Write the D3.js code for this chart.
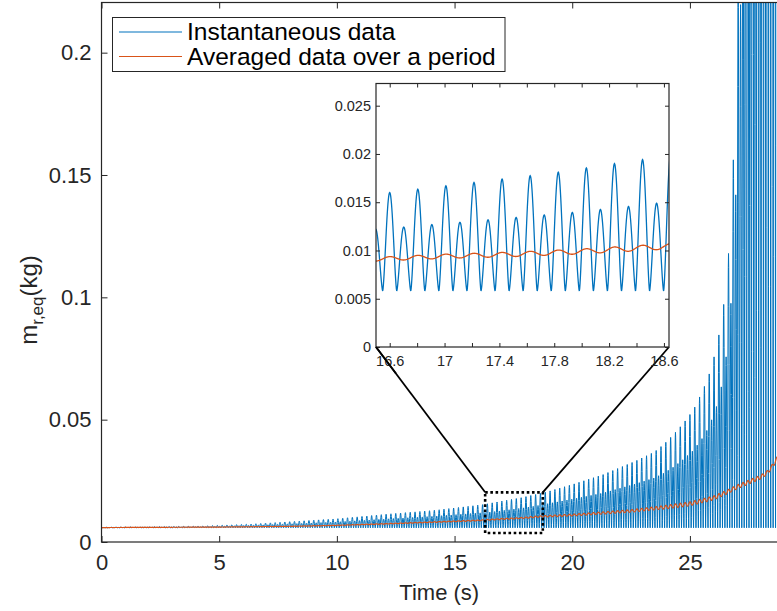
<!DOCTYPE html>
<html>
<head>
<meta charset="utf-8">
<script src="https://cdn.jsdelivr.net/npm/d3@7"></script>
<style>
  body { margin: 0; background: #fff; }
  svg { display: block; font-family: "Liberation Sans", Arial, sans-serif; }
</style>
</head>
<body>
<svg id="chart" width="777" height="611"></svg>
<script>
// ---- data ----
var seriesNames = ["Instantaneous data", "Averaged data over a period"];
var seriesColors = ["#0072BD", "#D95319"];

var xTicks = [0, 5, 10, 15, 20, 25];
var yTicks = [0, 0.05, 0.1, 0.15, 0.2];
var yTickLabels = ["0", "0.05", "0.1", "0.15", "0.2"];
var insetXTicks = [16.6, 16.8, 17, 17.2, 17.4, 17.6, 17.8, 18, 18.2, 18.4, 18.6];
var insetXLabels = [16.6, 17, 17.4, 17.8, 18.2, 18.6];
var insetYTicks = [0, 0.005, 0.01, 0.015, 0.02, 0.025];

// oscillation: big peak / small peak alternate, troughs at a constant level
var troughLevel = 0.0058;
var bigPeakPeriod = 0.2049;   // s between two big peaks
var firstBigPeak = 16.6;      // a big peak time seen in the inset

// peak envelopes (s, kg)
var peakTimes = [0, 4.2, 6.3, 8.0, 10.0, 12.26, 14.1, 16.22, 16.6, 17.01, 17.42, 17.83, 18.24, 18.44,
  18.92, 20.0, 21.3, 22.67, 23.49, 23.9, 24.31, 24.72, 25.15, 25.57, 25.8, 26.01, 26.22, 26.45,
  26.66, 26.89, 27.1, 27.5, 28.7];
var bigPeaks = [0.0060, 0.0065, 0.0073, 0.0083, 0.0095, 0.0115, 0.0129, 0.0153, 0.0160, 0.0167,
  0.0174, 0.0181, 0.0190, 0.0194, 0.0205, 0.0235, 0.0275, 0.0330, 0.0368, 0.0400, 0.0440, 0.0485,
  0.0540, 0.0625, 0.0680, 0.0750, 0.0840, 0.0980, 0.1200, 0.1650, 0.2500, 0.4500, 1.2000];
var smallPeaks = [0.0059, 0.0062, 0.0068, 0.0074, 0.0082, 0.0095, 0.0105, 0.0120, 0.0123, 0.0128,
  0.0133, 0.0138, 0.0144, 0.0147, 0.0156, 0.0175, 0.0200, 0.0237, 0.0262, 0.0282, 0.0307, 0.0338,
  0.0375, 0.0430, 0.0470, 0.0520, 0.0580, 0.0690, 0.0850, 0.1200, 0.2000, 0.3500, 0.9000];

// averaged data over a period
var avgTimes = [0, 5, 8, 10, 12, 14, 16, 16.5, 17, 17.5, 18, 18.6, 20, 22.5, 24, 25, 26, 26.6, 27,
  27.5, 28, 28.3, 28.5, 28.7];
var avgValues = [0.0059, 0.0061, 0.0064, 0.0068, 0.0074, 0.0081, 0.0088, 0.0091, 0.0094, 0.0096,
  0.0099, 0.0104, 0.0110, 0.0127, 0.0143, 0.0156, 0.0180, 0.0205, 0.0225, 0.0245, 0.0265, 0.0285,
  0.0310, 0.0340];

// zoomed region marked on the main axes
var zoomBox = { x0: 16.3, x1: 18.75, y0: 0.0037, y1: 0.0203 };

// ---- envelopes as polylinear scales ----
var bigEnv = d3.scaleLinear().domain(peakTimes).range(bigPeaks);
var smallEnv = d3.scaleLinear().domain(peakTimes).range(smallPeaks);
var avgEnv = d3.scaleLinear().domain(avgTimes).range(avgValues);
var halfPeriod = bigPeakPeriod / 2;

function instValue(t) {
  var u = (t - firstBigPeak) / halfPeriod;
  var n = Math.round(u);
  var d = Math.abs(u - n);
  var tp = firstBigPeak + n * halfPeriod;
  var isBig = ((n % 2) + 2) % 2 === 0;
  var pv = isBig ? bigEnv(tp) : smallEnv(tp);
  var s = Math.pow(Math.max(0, Math.cos(Math.PI * d)), 1.5);
  return troughLevel + (pv - troughLevel) * s;
}

function avgValue(t) {
  var amp = Math.min(bigEnv(t) - troughLevel, 0.04);
  var ripple = 0.02 * amp * Math.cos(2 * Math.PI * (t - firstBigPeak) / bigPeakPeriod);
  return avgEnv(t) + ripple;
}

// samples aligned on the peak grid so every trough and peak is hit
function sample(t0, t1, perHalf, f) {
  var pts = [];
  var k0 = Math.floor((t0 - firstBigPeak) / halfPeriod * perHalf);
  var k1 = Math.ceil((t1 - firstBigPeak) / halfPeriod * perHalf);
  for (var k = k0; k <= k1; k++) {
    var t = firstBigPeak + k * halfPeriod / perHalf;
    pts.push([t, f(t)]);
  }
  return pts;
}

var svg = d3.select("#chart");
var axisColor = "#262626";

// ---- main axes ----
var m = { left: 101.5, right: 777, top: 2.5, bottom: 542 };
var x = d3.scaleLinear().domain([0, 28.7]).range([m.left, m.right]);
var y = d3.scaleLinear().domain([0, 0.2205]).range([m.bottom, m.top]);

var defs = svg.append("defs");
defs.append("clipPath").attr("id", "clip-main")
  .append("rect")
    .attr("x", m.left).attr("y", m.top)
    .attr("width", m.right - m.left).attr("height", m.bottom - m.top);

var mainData = sample(0, 28.7, 12, instValue);
var mainAvg = sample(0, 28.7, 12, avgValue);

var line = d3.line().x(function (d) { return x(d[0]); }).y(function (d) { return y(d[1]); });

var plot = svg.append("g").attr("clip-path", "url(#clip-main)");
plot.append("path")
  .attr("d", line(mainData))
  .style("fill", "none")
  .style("stroke", seriesColors[0])
  .style("stroke-width", 1);
plot.append("path")
  .attr("d", line(mainAvg))
  .style("fill", "none")
  .style("stroke", seriesColors[1])
  .style("stroke-width", 1.2);

// axes (ticks inward)
svg.append("g")
  .attr("transform", "translate(0," + m.bottom + ")")
  .call(d3.axisBottom(x).tickValues(xTicks).tickSize(-6).tickPadding(12).tickFormat(d3.format("d")))
  .call(function (g) {
    g.select(".domain").remove();
    g.selectAll("line").style("stroke", axisColor);
    g.selectAll("text").style("font-size", "22px").style("fill", axisColor);
  });
svg.append("g")
  .attr("transform", "translate(0," + m.top + ")")
  .call(d3.axisTop(x).tickValues(xTicks).tickSize(-6).tickFormat(""))
  .call(function (g) {
    g.select(".domain").remove();
    g.selectAll("line").style("stroke", axisColor);
  });
svg.append("g")
  .attr("transform", "translate(" + m.left + ",0)")
  .call(d3.axisLeft(y).tickValues(yTicks).tickSize(-6).tickPadding(10)
    .tickFormat(function (d, i) { return yTickLabels[i]; }))
  .call(function (g) {
    g.select(".domain").remove();
    g.selectAll("line").style("stroke", axisColor);
    g.selectAll("text").style("font-size", "22px").style("fill", axisColor);
  });

svg.append("rect")
  .attr("x", m.left).attr("y", m.top)
  .attr("width", m.right - m.left + 5).attr("height", m.bottom - m.top)
  .style("fill", "none").style("stroke", axisColor).style("stroke-width", 1.2);

// axis titles
svg.append("text")
  .attr("x", (m.left + m.right) / 2).attr("y", 600)
  .attr("text-anchor", "middle")
  .style("font-size", "22px").style("fill", axisColor)
  .text("Time (s)");

var yTitle = svg.append("text")
  .attr("transform", "translate(37,300) rotate(-90)")
  .attr("text-anchor", "middle")
  .style("font-size", "24px").style("fill", axisColor);
yTitle.append("tspan").text("m");
yTitle.append("tspan").attr("dy", 6).style("font-size", "17px").text("r,eq");
yTitle.append("tspan").attr("dy", -6).text("(kg)");

// ---- zoom box + connectors ----
var ins = { left: 376, right: 669, top: 83.5, bottom: 347 };

svg.append("line")
  .attr("x1", ins.left).attr("y1", ins.bottom)
  .attr("x2", x(zoomBox.x0)).attr("y2", y(zoomBox.y1))
  .style("stroke", "#000").style("stroke-width", 1.8);
svg.append("line")
  .attr("x1", ins.right).attr("y1", ins.bottom)
  .attr("x2", x(zoomBox.x1)).attr("y2", y(zoomBox.y1))
  .style("stroke", "#000").style("stroke-width", 1.8);

svg.append("rect")
  .attr("x", x(zoomBox.x0)).attr("y", y(zoomBox.y1))
  .attr("width", x(zoomBox.x1) - x(zoomBox.x0))
  .attr("height", y(zoomBox.y0) - y(zoomBox.y1))
  .style("fill", "none").style("stroke", "#000")
  .style("stroke-width", 2.6).style("stroke-dasharray", "2.6,2.6");

// ---- inset ----
var xi = d3.scaleLinear().domain([16.5, 18.637]).range([ins.left, ins.right]);
var yi = d3.scaleLinear().domain([0, 0.0273]).range([ins.bottom, ins.top]);

defs.append("clipPath").attr("id", "clip-inset")
  .append("rect")
    .attr("x", ins.left).attr("y", ins.top)
    .attr("width", ins.right - ins.left).attr("height", ins.bottom - ins.top);

var inset = svg.append("g").attr("id", "inset");
inset.append("rect")
  .attr("x", ins.left).attr("y", ins.top)
  .attr("width", ins.right - ins.left).attr("height", ins.bottom - ins.top)
  .style("fill", "#fff");

var lineI = d3.line().x(function (d) { return xi(d[0]); }).y(function (d) { return yi(d[1]); });
var insetPlot = inset.append("g").attr("clip-path", "url(#clip-inset)");
insetPlot.append("path")
  .attr("d", lineI(sample(16.45, 18.7, 40, instValue)))
  .style("fill", "none").style("stroke", seriesColors[0]).style("stroke-width", 1.3);
insetPlot.append("path")
  .attr("d", lineI(sample(16.45, 18.7, 40, avgValue)))
  .style("fill", "none").style("stroke", seriesColors[1]).style("stroke-width", 1.3);

inset.append("g")
  .attr("transform", "translate(0," + ins.bottom + ")")
  .call(d3.axisBottom(xi).tickValues(insetXTicks).tickSize(-4).tickPadding(9)
    .tickFormat(function (d) { return insetXLabels.some(function (v) { return Math.abs(v - d) < 1e-6; }) ? d3.format("")(d) : ""; }))
  .call(function (g) {
    g.select(".domain").remove();
    g.selectAll("line").style("stroke", axisColor);
    g.selectAll("text").style("font-size", "14.5px").style("fill", axisColor);
  });
inset.append("g")
  .attr("transform", "translate(0," + ins.top + ")")
  .call(d3.axisTop(xi).tickValues(insetXTicks).tickSize(-4).tickFormat(""))
  .call(function (g) {
    g.select(".domain").remove();
    g.selectAll("line").style("stroke", axisColor);
  });
inset.append("g")
  .attr("transform", "translate(" + ins.left + ",0)")
  .call(d3.axisLeft(yi).tickValues(insetYTicks).tickSize(-4).tickPadding(5).tickFormat(d3.format("")))
  .call(function (g) {
    g.select(".domain").remove();
    g.selectAll("line").style("stroke", axisColor);
    g.selectAll("text").style("font-size", "14.5px").style("fill", axisColor);
  });
inset.append("g")
  .attr("transform", "translate(" + ins.right + ",0)")
  .call(d3.axisRight(yi).tickValues(insetYTicks).tickSize(-4).tickFormat(""))
  .call(function (g) {
    g.select(".domain").remove();
    g.selectAll("line").style("stroke", axisColor);
  });
inset.append("rect")
  .attr("x", ins.left).attr("y", ins.top)
  .attr("width", ins.right - ins.left).attr("height", ins.bottom - ins.top)
  .style("fill", "none").style("stroke", axisColor).style("stroke-width", 1.2);

// connectors run over the inset labels too
svg.append("line")
  .attr("x1", ins.left).attr("y1", ins.bottom)
  .attr("x2", ins.left + 20).attr("y2", ins.bottom + 26.5)
  .style("stroke", "#000").style("stroke-width", 1.8);

// ---- legend ----
var legend = svg.append("g").attr("id", "legend");
legend.append("rect")
  .attr("x", 112.5).attr("y", 17.5).attr("width", 392.5).attr("height", 54)
  .style("fill", "#fff").style("stroke", axisColor).style("stroke-width", 1);
seriesNames.forEach(function (name, i) {
  var ly = 32 + i * 24.5;
  legend.append("line")
    .attr("x1", 119).attr("x2", 182).attr("y1", ly).attr("y2", ly)
    .style("stroke", seriesColors[i]).style("stroke-width", 1.2);
  legend.append("text")
    .attr("x", 187).attr("y", ly + 8)
    .style("font-size", "24.5px").style("fill", "#000")
    .text(name);
});
</script>
</body>
</html>
